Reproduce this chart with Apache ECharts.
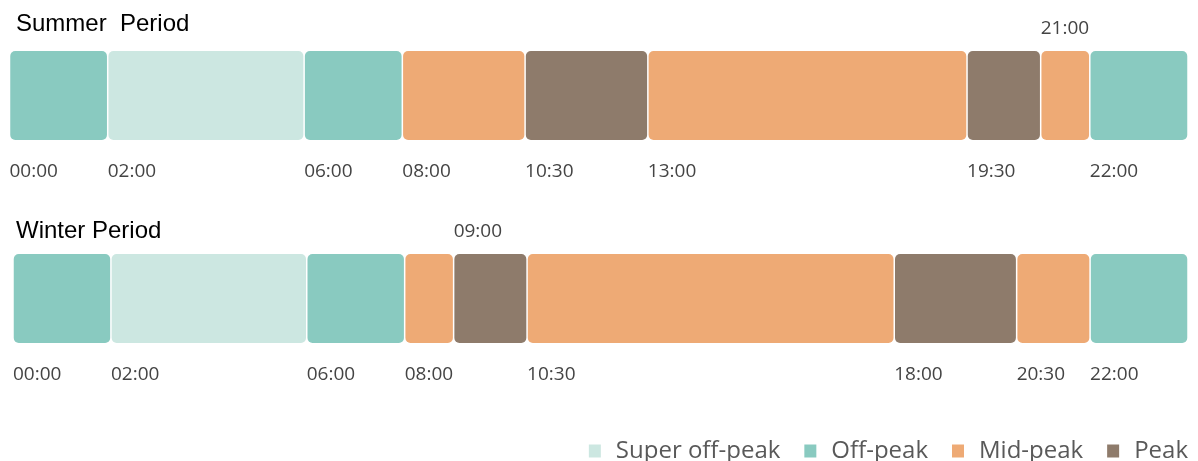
<!DOCTYPE html>
<html>
<head>
<meta charset="utf-8">
<title>Time-of-use periods</title>
<script src="https://cdn.jsdelivr.net/npm/echarts@6/dist/echarts.min.js"></script>
<style>
  html, body { margin: 0; padding: 0; background: #fff; }
  #chart { width: 1198px; height: 461px; }
</style>
</head>
<body>
<div id="chart"></div>
<script>
// Tariff tiers and their colours
const tierNames = ['Super off-peak', 'Off-peak', 'Mid-peak', 'Peak'];
const tierColors = ['#cce7e1', '#89cac0', '#eeaa75', '#8e7b6b'];

// Summer schedule: start of each block and its tier
const summerStarts = ['00:00', '02:00', '06:00', '08:00', '10:30', '13:00', '19:30', '21:00', '22:00'];
const summerTiers = ['Off-peak', 'Super off-peak', 'Off-peak', 'Mid-peak', 'Peak', 'Mid-peak', 'Peak', 'Mid-peak', 'Off-peak'];
const summerLabelsAbove = ['21:00'];

// Winter schedule
const winterStarts = ['00:00', '02:00', '06:00', '08:00', '09:00', '10:30', '18:00', '20:30', '22:00'];
const winterTiers = ['Off-peak', 'Super off-peak', 'Off-peak', 'Mid-peak', 'Peak', 'Mid-peak', 'Peak', 'Mid-peak', 'Off-peak'];
const winterLabelsAbove = ['09:00'];

const dayEnd = '24:00';
const periodTitles = ['Summer  Period', 'Winter Period'];

function toHours(t) {
  const [h, m] = t.split(':').map(Number);
  return h + m / 60;
}

// Build [start, end, labelAbove, startText] rows for one tier of one period
function blocksFor(starts, tiers, above, tier) {
  const rows = [];
  starts.forEach((s, i) => {
    if (tiers[i] !== tier) return;
    const e = i + 1 < starts.length ? starts[i + 1] : dayEnd;
    rows.push([toHours(s), toHours(e), above.includes(s) ? 1 : 0, s]);
  });
  return rows;
}

const labelFont = { fontFamily: 'Open Sans', fontSize: 19, fill: '#444' };

function renderBlock(params, api) {
  const start = api.value(0);
  const end = api.value(1);
  const above = api.value(2);
  const text = api.value(3);
  const topLeft = api.coord([start, 1]);
  const bottomRight = api.coord([end, 0]);
  const inset = 0.75;
  const x = topLeft[0] + inset;
  const w = bottomRight[0] - topLeft[0] - inset * 2;
  const y = topLeft[1];
  const h = bottomRight[1] - topLeft[1];
  return {
    type: 'group',
    children: [
      {
        type: 'rect',
        shape: { x: x, y: y, width: w, height: h, r: 5 },
        style: { fill: api.visual('color') }
      },
      {
        type: 'text',
        style: Object.assign({
          text: text,
          x: topLeft[0],
          y: above ? y - 22 : y + h + 32,
          align: 'left',
          verticalAlign: 'middle'
        }, labelFont)
      }
    ]
  };
}

const periods = [
  { starts: summerStarts, tiers: summerTiers, above: summerLabelsAbove },
  { starts: winterStarts, tiers: winterTiers, above: winterLabelsAbove }
];

const series = [];
periods.forEach((p, gi) => {
  tierNames.forEach((tier, ti) => {
    series.push({
      type: 'custom',
      name: tier,
      xAxisIndex: gi,
      yAxisIndex: gi,
      color: tierColors[ti],
      renderItem: renderBlock,
      encode: { x: [0, 1] },
      data: blocksFor(p.starts, p.tiers, p.above, tier),
      silent: true
    });
  });
});

const chart = echarts.init(document.getElementById('chart'), null, { renderer: 'canvas' });
chart.setOption({
  animation: false,
  backgroundColor: '#fff',
  title: [
    { text: periodTitles[0], left: 16, top: 12, padding: 0,
      textStyle: { fontFamily: 'Liberation Sans', fontSize: 24, fontWeight: 'normal', color: '#000' } },
    { text: periodTitles[1], left: 16, top: 219, padding: 0,
      textStyle: { fontFamily: 'Liberation Sans', fontSize: 24, fontWeight: 'normal', color: '#000' } }
  ],
  grid: [
    { left: 9.5, right: 10, top: 51, height: 89 },
    { left: 13, right: 10, top: 254, height: 89 }
  ],
  xAxis: [
    { type: 'value', gridIndex: 0, min: 0, max: 24, show: false },
    { type: 'value', gridIndex: 1, min: 0, max: 24, show: false }
  ],
  yAxis: [
    { type: 'value', gridIndex: 0, min: 0, max: 1, show: false },
    { type: 'value', gridIndex: 1, min: 0, max: 1, show: false }
  ],
  legend: {
    data: tierNames,
    right: 10,
    top: 438,
    padding: 0,
    icon: 'rect',
    itemWidth: 12,
    itemHeight: 13,
    itemGap: 24,
    selectedMode: false,
    textStyle: { fontFamily: 'Open Sans', fontSize: 24, color: '#595959', padding: [0, 0, 0, 10], lineHeight: 26 }
  },
  series: series
});
</script>
</body>
</html>
